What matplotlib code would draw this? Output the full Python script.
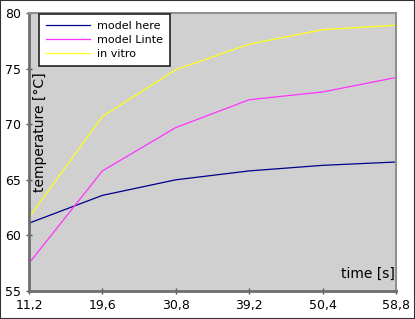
import numpy as np
import matplotlib.pyplot as plt

times = ['11,2', '19,6', '30,8', '39,2', '50,4', '58,8']
model_here = [61.1, 63.6, 65.0, 65.8, 66.3, 66.6]
model_linte = [57.5, 65.8, 69.7, 72.2, 72.9, 74.2]
in_vitro = [61.6, 70.7, 74.9, 77.2, 78.5, 78.9]

fig = plt.figure(figsize=(4.15, 3.19), dpi=100)
ax = fig.add_axes([29 / 415, 28 / 319, 367 / 415, 278 / 319])
ax.set_facecolor('#d0d0d0')

x = np.arange(len(times))
ax.plot(x, model_here, color='#00008b', lw=0.9, label='model here')
ax.plot(x, model_linte, color='#ff33ff', lw=0.9, label='model Linte')
ax.plot(x, in_vitro, color='#ffff1a', lw=0.9, label='in vitro')

ax.set_xlim(0, len(times) - 1)
ax.set_ylim(55, 80)
ax.set_xticks(x)
ax.set_xticklabels(times)
ax.set_yticks([55, 60, 65, 70, 75, 80])
ax.tick_params(labelsize=9, direction='inout', length=5, color='#555555', width=1)

for s in ['left', 'bottom']:
    ax.spines[s].set_color('#6e6e6e')
    ax.spines[s].set_linewidth(2)
for s in ['top', 'right']:
    ax.spines[s].set_color('#909090')
    ax.spines[s].set_linewidth(1.5)

ax.text(0.03, 0.57, 'temperature [°C]', transform=ax.transAxes, rotation=90,
        ha='center', va='center', fontsize=10)
ax.text(0.997, 0.035, 'time [s]', transform=ax.transAxes, ha='right', va='bottom', fontsize=10)

leg = ax.legend(loc='upper left', bbox_to_anchor=(0.025, 1.0), fontsize=8, frameon=True,
                fancybox=False, framealpha=1, edgecolor='#222222', handlelength=4.0,
                handletextpad=0.6, borderpad=0.6, labelspacing=0.38, borderaxespad=0.1)
leg.get_frame().set_linewidth(1.2)

fig.patches.append(plt.Rectangle((0, 0), 1, 1, transform=fig.transFigure, fill=False,
                                 edgecolor='#333333', lw=1.5))
fig.savefig('out.png', dpi=100)
